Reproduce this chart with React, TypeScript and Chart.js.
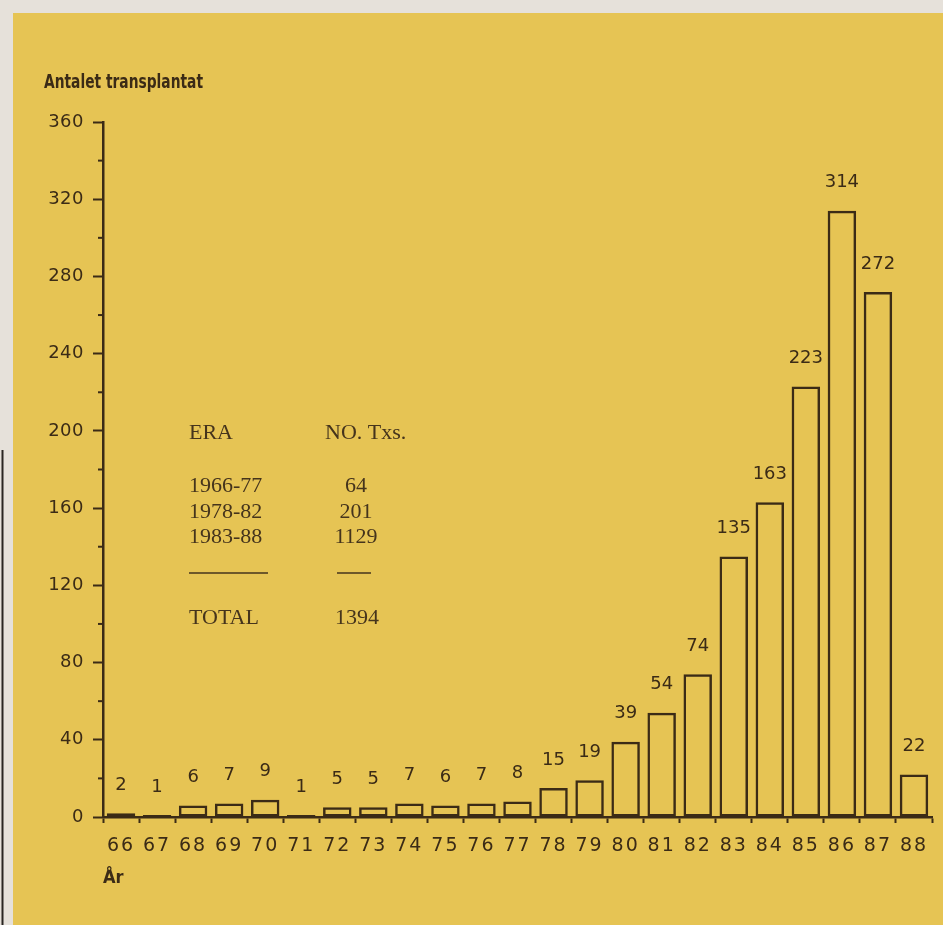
import React, { useEffect, useRef } from 'react';
import { Chart, registerables } from 'chart.js';

Chart.register(...registerables);

// ---- data ----
const years = ['66', '67', '68', '69', '70', '71', '72', '73', '74', '75', '76', '77', '78', '79', '80', '81', '82', '83', '84', '85', '86', '87', '88'];
const transplants = [2, 1, 6, 7, 9, 1, 5, 5, 7, 6, 7, 8, 15, 19, 39, 54, 74, 135, 163, 223, 314, 272, 22];
const yMax = 360;
const yStep = 20;
const yLabelStep = 40;
const yTitle = 'Antalet transplantat';
const xTitle = 'År';
const tableHeader = ['ERA', 'NO. Txs.'];
const eraNames = ['1966-77', '1978-82', '1983-88'];
const eraCounts = ['64', '201', '1129'];
const totalName = 'TOTAL';
const totalCount = '1394';

// ---- style ----
const INK = '#3b2b16';
const YELLOW = '#e6c454';
const PAPER = '#e6e1da';
const SANS = '"DejaVu Sans", "Liberation Sans", sans-serif';
const NARROW = '"Liberation Sans Narrow", "DejaVu Sans Condensed", "Liberation Sans", sans-serif';
const SERIF = '"Liberation Serif", "DejaVu Serif", serif';

const backgroundPlugin = {
  id: 'paperBackground',
  beforeDraw(chart: any) {
    const { ctx, width, height } = chart;
    ctx.save();
    ctx.fillStyle = PAPER;
    ctx.fillRect(0, 0, width, height);
    ctx.fillStyle = YELLOW;
    ctx.fillRect(13, 13, width - 13, height - 13);
    ctx.strokeStyle = '#2a2622';
    ctx.lineWidth = 2;
    ctx.beginPath();
    ctx.moveTo(2.5, 450);
    ctx.lineTo(2.5, height);
    ctx.stroke();
    ctx.restore();
    // letter spacing for axis tick labels
    const patch = (scale: any, spacing: string) => {
      if (!scale || scale.__spaced) return;
      const orig = scale.drawLabels.bind(scale);
      scale.drawLabels = (area: any) => {
        const c = scale.ctx;
        c.save();
        (c as any).letterSpacing = spacing;
        orig(area);
        c.restore();
      };
      scale.__spaced = true;
    };
    patch(chart.scales.x, '2px');
    patch(chart.scales.y, '0.5px');
  },
};

const minorTickPlugin = {
  id: 'minorTicks',
  afterDraw(chart: any) {
    const { ctx } = chart;
    const y = chart.scales.y;
    ctx.save();
    ctx.strokeStyle = INK;
    ctx.lineWidth = 2;
    for (let v = 0; v <= yMax; v += yStep) {
      if (v % yLabelStep === 0) continue;
      const py = y.getPixelForValue(v);
      ctx.beginPath();
      ctx.moveTo(y.right - 5, py);
      ctx.lineTo(y.right, py);
      ctx.stroke();
    }
    ctx.restore();
  },
};

const valueLabelPlugin = {
  id: 'valueLabels',
  afterDatasetsDraw(chart: any) {
    const { ctx } = chart;
    const meta = chart.getDatasetMeta(0);
    ctx.save();
    ctx.fillStyle = INK;
    ctx.font = `18px ${SANS}`;
    ctx.textAlign = 'center';
    ctx.textBaseline = 'middle';
    meta.data.forEach((bar: any, i: number) => {
      ctx.fillText(String(transplants[i]), bar.x, bar.y - 28);
    });
    ctx.restore();
  },
};

const textPlugin = {
  id: 'annotTexts',
  afterDraw(chart: any) {
    const { ctx } = chart;
    ctx.save();
    // y title
    ctx.fillStyle = INK;
    ctx.font = `bold 18px ${NARROW}`;
    ctx.textBaseline = 'middle';
    ctx.textAlign = 'left';
    const w = ctx.measureText(yTitle).width;
    ctx.save();
    ctx.translate(44, 83);
    ctx.scale(159 / w, 1.05);
    ctx.fillText(yTitle, 0, 0);
    ctx.restore();

    // table
    ctx.fillStyle = '#45341c';
    ctx.font = `22px ${SERIF}`;
    ctx.textAlign = 'left';
    ctx.fillText(tableHeader[0], 189, 433);
    ctx.fillText(tableHeader[1], 325, 433);
    const rowsY = [486, 512, 537];
    eraNames.forEach((n, i) => {
      ctx.textAlign = 'left';
      ctx.fillText(n, 189, rowsY[i]);
      ctx.textAlign = 'center';
      ctx.fillText(eraCounts[i], 356, rowsY[i]);
    });
    ctx.strokeStyle = '#45341c';
    ctx.lineWidth = 1.5;
    ctx.beginPath();
    ctx.moveTo(189, 573);
    ctx.lineTo(268, 573);
    ctx.moveTo(337, 573);
    ctx.lineTo(371, 573);
    ctx.stroke();
    ctx.textAlign = 'left';
    ctx.fillText(totalName, 189, 618);
    ctx.textAlign = 'center';
    ctx.fillText(totalCount, 357, 618);
    ctx.restore();
  },
};

export default function App() {
  const ref = useRef<HTMLCanvasElement | null>(null);

  useEffect(() => {
    if (!ref.current) return;
    const chart = new Chart(ref.current, {
      type: 'bar',
      data: {
        labels: years,
        datasets: [
          {
            data: transplants,
            backgroundColor: 'rgba(0,0,0,0)',
            borderColor: INK,
            borderWidth: 2.5,
            borderSkipped: false,
            categoryPercentage: 1,
            barPercentage: 0.79,
          },
        ],
      },
      options: {
        responsive: false,
        animation: false,
        devicePixelRatio: 1,
        layout: { padding: { left: 0, right: 11, top: 122, bottom: 28 } },
        plugins: {
          legend: { display: false },
          tooltip: { enabled: false },
          title: { display: false },
        },
        scales: {
          x: {
            offset: true,
            afterFit: (s: any) => {
              s.height = 80;
            },
            grid: {
              display: true,
              offset: true,
              drawOnChartArea: false,
              drawTicks: true,
              tickLength: 6,
              tickColor: INK,
              tickWidth: 2,
            },
            border: { display: true, color: INK, width: 2.5 },
            ticks: {
              color: INK,
              font: { family: SANS, size: 19 },
              padding: 12,
              maxRotation: 0,
              autoSkip: false,
            },
            title: {
              display: true,
              text: xTitle,
              align: 'start',
              color: INK,
              font: { family: NARROW, size: 18, weight: 'bold' },
              padding: { top: 0, bottom: 8 },
            },
          },
          y: {
            min: 0,
            max: yMax,
            afterFit: (s: any) => {
              s.width = 103;
            },
            grid: {
              display: true,
              drawOnChartArea: false,
              drawTicks: true,
              tickLength: 10,
              tickWidth: 2,
              tickColor: (c: any) => (c.tick && c.tick.value % yLabelStep === 0 ? INK : 'rgba(0,0,0,0)'),
            },
            border: { display: true, color: INK, width: 2.5 },
            ticks: {
              stepSize: yStep,
              color: INK,
              font: { family: SANS, size: 18 },
              padding: 9,
              callback: (v: any) => (Number(v) % yLabelStep === 0 ? String(v) : ''),
            },
          },
        },
      },
      plugins: [backgroundPlugin, minorTickPlugin, valueLabelPlugin, textPlugin],
    });
    return () => chart.destroy();
  }, []);

  return (
    <div style={{ position: 'absolute', left: 0, top: 0, width: 943, height: 925 }}>
      <canvas ref={ref} width={943} height={925} style={{ display: 'block' }} />
    </div>
  );
}
